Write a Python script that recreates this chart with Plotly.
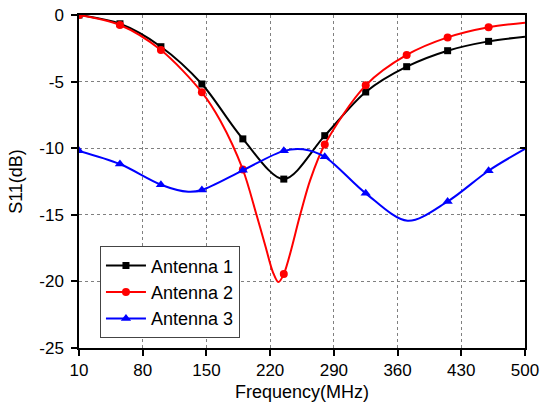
import plotly.graph_objects as go

# ---------------- data ----------------
marker_freq = [10, 55, 100, 145, 190, 235, 280, 325, 370, 415, 460]

freq_1 = [10, 55, 100, 145, 190, 235, 280, 325, 370, 415, 460, 500]
s11_1 = [0, -0.66, -2.38, -5.18, -9.3, -12.32, -9.06, -5.78, -3.88, -2.68, -1.98, -1.63]

freq_2 = [10, 55, 100, 145, 165, 190, 205, 215, 223, 229, 235, 253, 264, 280, 325, 370, 415, 460, 500]
s11_2 = [0, -0.75, -2.63, -5.8, -7.9, -11.6, -15.0, -17.4, -19.3, -20.05, -19.45, -15.0, -12.4, -9.73, -5.28, -3.0, -1.68, -0.92, -0.58]

freq_3 = [10, 55, 100, 130, 145, 190, 235, 256, 280, 325, 371, 415, 460, 500]
s11_3 = [-10.2, -11.19, -12.74, -13.27, -13.14, -11.66, -10.2, -10.08, -10.65, -13.39, -15.45, -14.0, -11.69, -10.05]

series_names = ["Antenna 1", "Antenna 2", "Antenna 3"]
series_colors = ["#000000", "#ff0000", "#0000ff"]
series_symbols = ["square", "circle", "triangle-up"]
series_sizes = [7, 8, 9]

x_ticks = [10, 80, 150, 220, 290, 360, 430, 500]
y_ticks = [0, -5, -10, -15, -20, -25]

FONT = "Liberation Sans, Arial, sans-serif"

fig = go.Figure()
for fx, fy, name, col, sym, sz in zip([freq_1, freq_2, freq_3], [s11_1, s11_2, s11_3],
                                      series_names, series_colors, series_symbols, series_sizes):
    mcols = [col if f in marker_freq else "rgba(0,0,0,0)" for f in fx]
    fig.add_trace(go.Scatter(
        x=fx, y=fy, name=name, mode="lines+markers",
        line=dict(color=col, width=2, shape="spline", smoothing=0.9),
        marker=dict(symbol=sym, size=sz, color=mcols, line=dict(width=0)),
    ))

# invisible trace to carry a right-hand axis with inward ticks
fig.add_trace(go.Scatter(x=[x_ticks[0]], y=[y_ticks[0]], yaxis="y2", mode="markers",
                         marker=dict(opacity=0), showlegend=False, hoverinfo="skip"))

fig.update_layout(
    width=541, height=410,
    margin=dict(l=79, r=16, t=15, b=62),
    paper_bgcolor="white", plot_bgcolor="white",
    font=dict(family=FONT, size=18, color="black"),
    showlegend=True,
    legend=dict(
        x=0.047, y=0.167, xanchor="left", yanchor="middle",
        bgcolor="white", bordercolor="#444444", borderwidth=1,
        font=dict(family=FONT, size=18, color="black"),
        tracegroupgap=0, itemwidth=40,
    ),
    xaxis=dict(
        range=[10, 500], tickmode="array", tickvals=x_ticks,
        ticktext=[str(v) for v in x_ticks],
        showline=True, linecolor="black", linewidth=1.5, mirror=True,
        ticks="outside", ticklen=6, tickwidth=1.5, tickcolor="black",
        showgrid=True, gridcolor="#808080", griddash="dot", gridwidth=1,
        zeroline=False, ticklabeloverflow="allow",
        tickfont=dict(family=FONT, size=17),
        title=dict(text="Frequency(MHz)", font=dict(family=FONT, size=18), standoff=6),
        automargin=False,
    ),
    yaxis=dict(
        range=[-25, 0], tickmode="array", tickvals=y_ticks,
        ticktext=[str(v) for v in y_ticks],
        showline=True, linecolor="black", linewidth=1.5, mirror=True,
        ticks="outside", ticklen=6, tickwidth=1.5, tickcolor="black",
        showgrid=True, gridcolor="#808080", griddash="dot", gridwidth=1,
        zeroline=False, ticklabelstandoff=4, ticklabeloverflow="allow",
        tickfont=dict(family=FONT, size=17),
        title=dict(text="S11(dB)", font=dict(family=FONT, size=18), standoff=12),
        automargin=False,
    ),
    yaxis2=dict(
        range=[-25, 0], overlaying="y", side="right", tickmode="array", tickvals=y_ticks,
        showticklabels=False, ticks="inside", ticklen=5, tickwidth=1.5, tickcolor="black",
        showgrid=False, zeroline=False, showline=False,
    ),
)

# remove the default 8px page margin so the figure fills the window exactly
fig.write_html("out.html", config={"displayModeBar": False},
               post_script="document.body.style.margin='0';")
